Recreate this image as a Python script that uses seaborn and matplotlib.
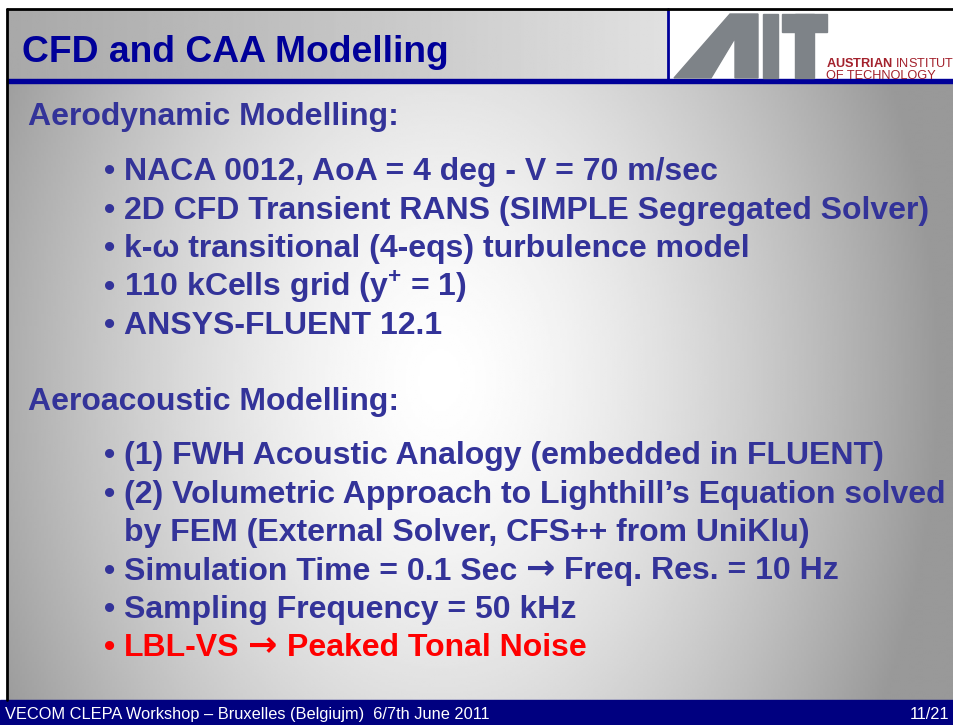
import numpy as np
import matplotlib
matplotlib.use("Agg")
import matplotlib.pyplot as plt
from matplotlib.patches import Rectangle, Polygon
import seaborn as sns

# slide content
title = "CFD and CAA Modelling"
section_titles = ["Aerodynamic Modelling:", "Aeroacoustic Modelling:"]
aero_lines = [
    "NACA 0012, AoA = 4 deg - V = 70 m/sec",
    "2D CFD Transient RANS (SIMPLE Segregated Solver)",
    "k-ω transitional (4-eqs) turbulence model",
    r"110 kCells grid (y$^{\mathbf{+}}$ = 1)",
    "ANSYS-FLUENT 12.1",
]
acoustic_lines = [
    "(1) FWH Acoustic Analogy (embedded in FLUENT)",
    "(2) Volumetric Approach to Lighthill’s Equation solved",
    "by FEM (External Solver, CFS++ from UniKlu)",
    "Simulation Time = 0.1 Sec → Freq. Res. = 10 Hz",
    "Sampling Frequency = 50 kHz",
    "LBL-VS → Peaked Tonal Noise",
]
acoustic_bullet = [True, True, False, True, True, True]
acoustic_red = [False, False, False, False, False, True]
footer_left = "VECOM CLEPA Workshop – Bruxelles (Belgiujm)  6/7th June 2011"
footer_right = "11/21"
logo_text = r"$\mathbf{AUSTRIAN}$ INSTITUT" + "\nOF TECHNOLOGY"

sns.set_theme(style="white")
plt.rcParams["font.family"] = ["Liberation Sans", "DejaVu Sans"]
plt.rcParams["mathtext.fontset"] = "custom"
plt.rcParams["mathtext.rm"] = "Liberation Sans"
plt.rcParams["mathtext.bf"] = "Liberation Sans:bold"

W, H = 954, 725
fig = plt.figure(figsize=(W / 100, H / 100), dpi=100)
ax = fig.add_axes([0, 0, 1, 1])
ax.set_xlim(0, W)
ax.set_ylim(H, 0)
ax.axis("off")
renderer = fig.canvas.get_renderer()

blue = "#333399"
navy = "#000099"

# body background: radial grey gradient
xx, yy = np.meshgrid(np.linspace(7, W, 400), np.linspace(82, 700, 300))
r = np.sqrt(((xx - 440) / 500) ** 2 + ((yy - 380) / 700) ** 2)
shade = 1.0 - 0.4 * np.clip(r, 0, 1) ** 1.5
ax.imshow(shade, cmap="gray", vmin=0, vmax=1, extent=(7, W, 700, 82),
          aspect="auto", interpolation="bilinear", zorder=0)

# title band: linear gradient
band = np.tile(np.linspace(0.66, 0.88, 300), (10, 1))
ax.imshow(band, cmap="gray", vmin=0, vmax=1, extent=(7, 668, 80, 9),
          aspect="auto", interpolation="bilinear", zorder=0)
ax.add_patch(Rectangle((668, 9), W - 668, 71, color="white", zorder=1))
ax.plot([668, 668], [9, 80], color=navy, lw=2, zorder=2)
ax.add_patch(Rectangle((7, 79), W - 7, 3.5, color=navy, zorder=2))

# frame
ax.plot([7, W], [9, 9], color="black", lw=2, zorder=3)
ax.plot([7, 7], [9, 700], color="black", lw=2, zorder=3)

# AIT logo
grey = "#7e8388"
ax.add_patch(Polygon([(674, 78), (730, 14), (758, 14), (758, 78), (735, 78),
                      (735, 38), (711, 78)], closed=True, color=grey, zorder=2))
ax.add_patch(Rectangle((763, 14), 15, 64, color=grey, zorder=2))
ax.add_patch(Rectangle((782, 14), 45, 18, color=grey, zorder=2))
ax.add_patch(Rectangle((795, 14), 19, 64, color=grey, zorder=2))
ax.text(826, 78.5, logo_text, color="#a3212c", fontsize=9.2, linespacing=0.95,
        va="baseline", zorder=3)

# title
ax.text(22, 62, title, color=navy, fontsize=26.8, fontweight="bold",
        va="baseline", zorder=3)

fs = 23
step = 38.5
space = fs * 100 / 72 * 0.278


def draw_line(x, y, line, color):
    # the arrow is drawn with a heavier glyph, as in the slide
    parts = line.split(" → ")
    for j, part in enumerate(parts):
        if j > 0:
            a = ax.text(x, y, "→", color=color, fontsize=fs * 1.1,
                        fontweight="bold", family="DejaVu Sans",
                        va="baseline", zorder=3)
            x += a.get_window_extent(renderer).width + space
        t = ax.text(x, y, part, color=color, fontsize=fs, fontweight="bold",
                    va="baseline", zorder=3)
        x += t.get_window_extent(renderer).width + space


# section 1
ax.text(28, 125, section_titles[0], color=blue, fontsize=fs, fontweight="bold",
        va="baseline", zorder=3)
for i, line in enumerate(aero_lines):
    y = 180 + i * step
    ax.text(104, y, "•", color=blue, fontsize=fs, fontweight="bold",
            va="baseline", zorder=3)
    draw_line(124, y, line, blue)

# section 2
ax.text(28, 410, section_titles[1], color=blue, fontsize=fs, fontweight="bold",
        va="baseline", zorder=3)
for i, line in enumerate(acoustic_lines):
    y = 464 + i * step
    c = "#ff0000" if acoustic_red[i] else blue
    if acoustic_bullet[i]:
        ax.text(104, y, "•", color=c, fontsize=fs, fontweight="bold",
                va="baseline", zorder=3)
    draw_line(124, y, line, c)

# footer
ax.add_patch(Rectangle((0, 700), W, 25, color="#000080", zorder=2))
ax.text(5, 719, footer_left, color="white", fontsize=11.8,
        va="baseline", zorder=3)
ax.text(949, 719, footer_right, color="white", fontsize=11.8,
        va="baseline", ha="right", zorder=3)

fig.savefig("out.png", dpi=100)
